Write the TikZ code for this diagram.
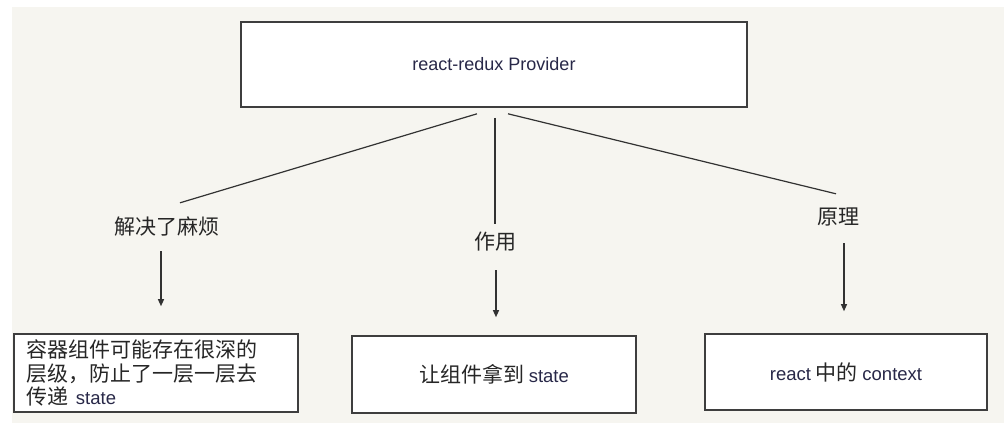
\documentclass[tikz,border=0pt]{standalone}
\usepackage{fontspec}
\setmainfont{Liberation Sans}
\newfontfamily\cjk{Noto Sans CJK SC}
\usepackage{tikz}
\usetikzlibrary{arrows.meta, positioning, calc}
\definecolor{mybg}{RGB}{246,245,240}
\definecolor{myframe}{RGB}{62,62,62}
\definecolor{myline}{RGB}{50,50,50}
\definecolor{mytext}{RGB}{38,38,38}
\definecolor{mylatin}{RGB}{40,40,72}
\newcommand{\lat}[1]{{\rmfamily\fontsize{18.5}{23.5}\selectfont\color{mylatin}#1}}
\tikzset{
  topbox/.style={rectangle, draw=myframe, fill=white, line width=1.6pt,
    minimum width=506pt, minimum height=85pt,
    font=\fontsize{18}{22}\selectfont, text=mylatin},
  leafbox/.style={rectangle, draw=myframe, fill=white, line width=1.6pt,
    minimum width=284pt, minimum height=77pt,
    font=\cjk\fontsize{21}{23.5}\selectfont, text=mytext},
  branch/.style={inner sep=0pt, text height=15pt, text depth=3pt,
    font=\cjk\fontsize{21}{23}\selectfont, text=mytext},
  link/.style={line width=1.2pt, color=myline},
  arrow/.style={-{Triangle[length=7pt, width=6pt]}, line width=1.2pt, color=myline}
}

\begin{document}
\begin{tikzpicture}[x=1pt, y=-1pt]
  \useasboundingbox (0,0) rectangle (1004,423);
  \fill[mybg] (12,7) rectangle (1004,423);

  % Provider on top
  \node[topbox] (prov) at (494,64.5) {react-redux Provider};

  % the three branches
  \node[branch] (solve) at (167,228) {解决了麻烦};
  \node[branch] (use) at (495,243) {作用};
  \node[branch] (how) at (838,218) {原理};

  % leaf boxes
  \node[leafbox, minimum height=78pt, align=left, text width=258pt, inner xsep=13pt] (deep) at (156,373)
    {容器组件可能存在很深的\\层级，防止了一层一层去\\传递 \lat{state}};
  \node[leafbox] (getstate) at (494,374.5) {让组件拿到 \lat{state}};
  \node[leafbox, minimum width=282pt, minimum height=76pt] (ctx) at (846,372)
    {\lat{react} 中的 \lat{context}};

  % lines from Provider
  \draw[link] ([xshift=-17pt, yshift=-6pt]prov.south) -- ([xshift=13pt, yshift=16pt]solve.north);
  \draw[link] ([xshift=1pt, yshift=-10pt]prov.south) -- ([yshift=10pt]use.north);
  \draw[link] ([xshift=14pt, yshift=-6pt]prov.south) -- ([xshift=-2pt, yshift=15pt]how.north);

  % arrows down to the boxes
  \draw[arrow, shorten <=14pt, shorten >=27pt] ([xshift=-6pt]solve.south) -- ([xshift=-6pt]solve.south |- deep.north);
  \draw[arrow, shorten <=18pt, shorten >=18pt] ([xshift=1pt]use.south) -- ([xshift=1pt]use.south |- getstate.north);
  \draw[arrow, shorten <=16pt, shorten >=22pt] ([xshift=6pt]how.south) -- ([xshift=6pt]how.south |- ctx.north);
\end{tikzpicture}
\end{document}
